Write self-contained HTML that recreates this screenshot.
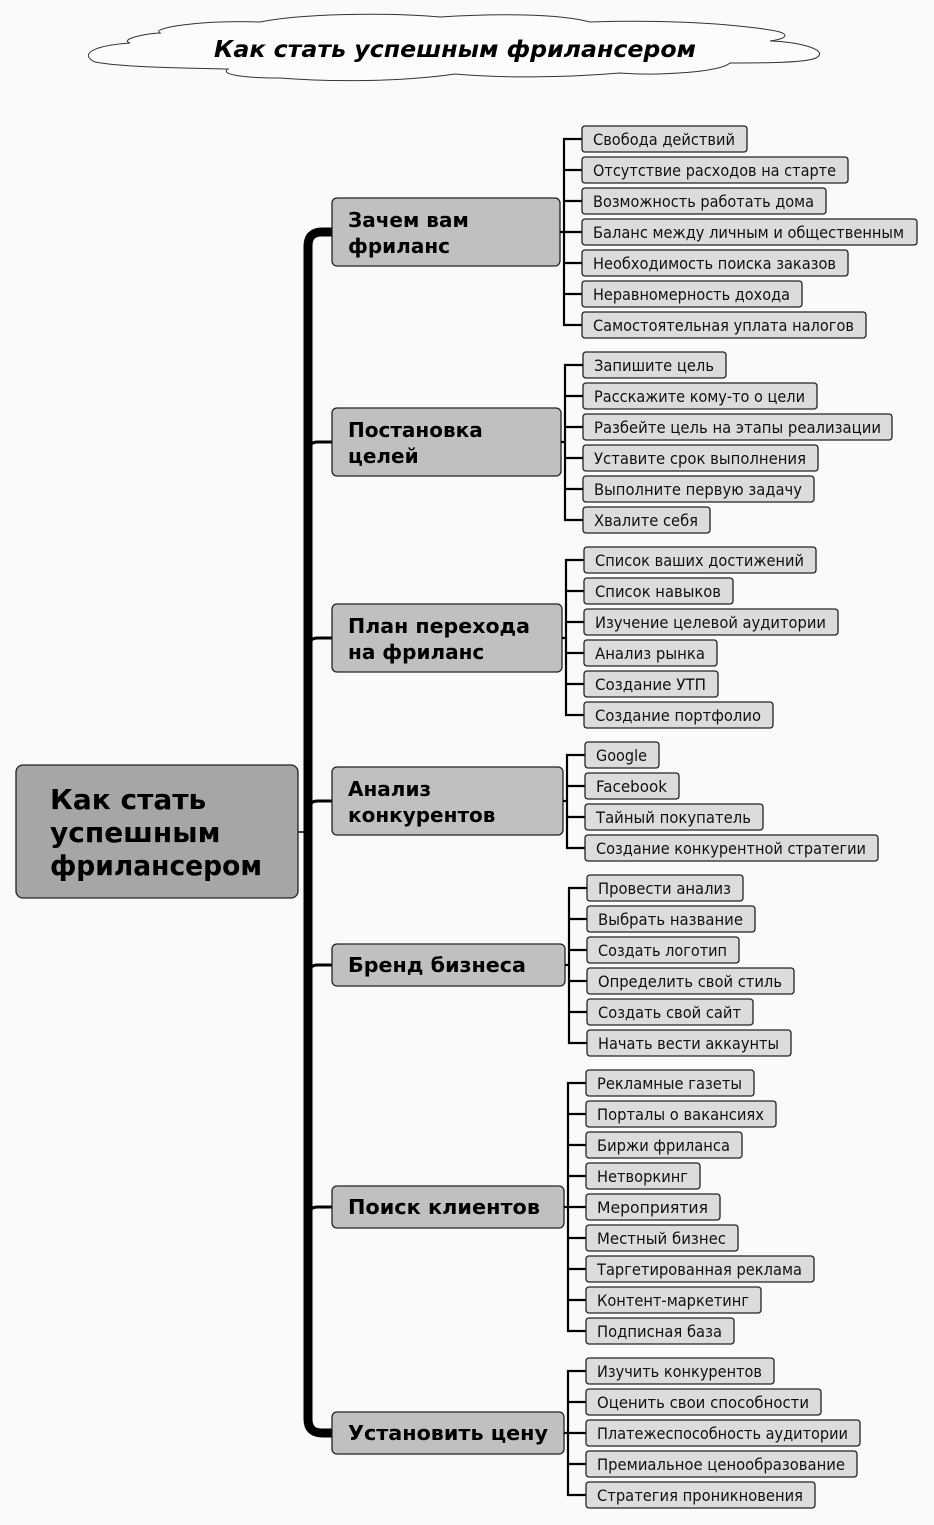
<!DOCTYPE html>
<html><head><meta charset="utf-8"><style>
html,body{margin:0;padding:0;background:#fcf9fc;}
svg{display:block;}
.lf rect{fill:#dcdcdc;stroke:#222;stroke-width:1.3;}
.lf text{font-family:"DejaVu Sans","Liberation Sans",sans-serif;font-size:16px;fill:#111;}
.n1 rect{fill:#c0c0c0;stroke:#222;stroke-width:1.3;}
.n1 text{font-family:"DejaVu Sans","Liberation Sans",sans-serif;font-size:20px;font-weight:bold;fill:#000;}
.br{stroke:#000;stroke-width:2.2;fill:none;}
</style></head><body>
<svg width="934" height="1525" viewBox="0 0 934 1525" xmlns="http://www.w3.org/2000/svg">
<path d="M160,33 C150,28 200,20 260,22 C300,14 380,12 440,17 C500,13 560,14 590,22 C650,20 720,22 770,30 C790,33 790,38 770,41 C800,42 830,50 816,58 C805,63 760,63 730,63 C720,72 660,76 620,73 C560,78 500,78 455,74 C400,82 330,82 280,78 C240,78 220,74 228,69 C180,68 120,67 95,62 C80,55 90,46 130,43 C120,40 140,34 160,33 Z" fill="#fdfbfd" stroke="#333" stroke-width="1"/>
<text x="455" y="57" text-anchor="middle" font-family="DejaVu Sans,Liberation Sans,sans-serif" font-size="23" font-weight="bold" font-style="italic" textLength="482" lengthAdjust="spacingAndGlyphs">Как стать успешным фрилансером</text>

<path d="M308,832 L308,246 Q308,232 322,232 L332,232" stroke="#000" stroke-width="9" fill="none"/>
<path d="M308,832 L308,1419 Q308,1433 322,1433 L332,1433" stroke="#000" stroke-width="9" fill="none"/>
<g stroke="#000" stroke-width="3" fill="none">
<path d="M308,452 Q308,442 318,442 L332,442"/>
<path d="M308,648 Q308,638 318,638 L332,638"/>
<path d="M308,811 Q308,801 318,801 L332,801"/>
<path d="M308,975 Q308,965 318,965 L332,965"/>
<path d="M308,1217 Q308,1207 318,1207 L332,1207"/>
</g>
<line x1="298" y1="832" x2="308" y2="832" stroke="#000" stroke-width="1.5"/>

<rect x="16" y="765" width="282" height="133" rx="7" fill="#a6a6a6" stroke="#222" stroke-width="1.3"/>
<g font-family="DejaVu Sans,Liberation Sans,sans-serif" font-size="28" font-weight="bold">
<text x="50" y="809">Как стать</text>
<text x="50" y="842">успешным</text>
<text x="50" y="875" textLength="212" lengthAdjust="spacingAndGlyphs">фрилансером</text>
</g>

<g class="n1">
<rect x="332" y="198" width="228" height="68" rx="5"/><text x="348" y="227">Зачем вам</text><text x="348" y="253">фриланс</text>
<rect x="332" y="408" width="229" height="68" rx="5"/><text x="348" y="437">Постановка</text><text x="348" y="463">целей</text>
<rect x="332" y="604" width="230" height="68" rx="5"/><text x="348" y="633" textLength="182" lengthAdjust="spacingAndGlyphs">План перехода</text><text x="348" y="659">на фриланс</text>
<rect x="332" y="767" width="231" height="68" rx="5"/><text x="348" y="796">Анализ</text><text x="348" y="822">конкурентов</text>
<rect x="332" y="944" width="233" height="42" rx="5"/><text x="348" y="972" textLength="178" lengthAdjust="spacingAndGlyphs">Бренд бизнеса</text>
<rect x="332" y="1186" width="232" height="42" rx="5"/><text x="348" y="1214" textLength="192" lengthAdjust="spacingAndGlyphs">Поиск клиентов</text>
<rect x="332" y="1412" width="232" height="42" rx="5"/><text x="348" y="1440" textLength="200" lengthAdjust="spacingAndGlyphs">Установить цену</text>
</g>

<g class="br">
<line x1="560" y1="232" x2="564" y2="232"/><path d="M582,139 H564 V325 H582 M564,170 H582 M564,201 H582 M564,232 H582 M564,263 H582 M564,294 H582"/>
<line x1="561" y1="442" x2="565" y2="442"/><path d="M583,365 H565 V520 H583 M565,396 H583 M565,427 H583 M565,458 H583 M565,489 H583"/>
<line x1="562" y1="638" x2="566" y2="638"/><path d="M584,560 H566 V715 H584 M566,591 H584 M566,622 H584 M566,653 H584 M566,684 H584"/>
<line x1="563" y1="801" x2="567" y2="801"/><path d="M585,755 H567 V848 H585 M567,786 H585 M567,817 H585"/>
<line x1="565" y1="965" x2="569" y2="965"/><path d="M587,888 H569 V1043 H587 M569,919 H587 M569,950 H587 M569,981 H587 M569,1012 H587"/>
<line x1="564" y1="1207" x2="568" y2="1207"/><path d="M586,1083 H568 V1331 H586 M568,1114 H586 M568,1145 H586 M568,1176 H586 M568,1207 H586 M568,1238 H586 M568,1269 H586 M568,1300 H586"/>
<line x1="564" y1="1433" x2="568" y2="1433"/><path d="M586,1371 H568 V1495 H586 M568,1402 H586 M568,1433 H586 M568,1464 H586"/>
</g>

<g class="lf">
<rect x="582" y="126" width="165" height="26" rx="3"/><text x="593" y="145" textLength="142" lengthAdjust="spacingAndGlyphs">Свобода действий</text>
<rect x="582" y="157" width="266" height="26" rx="3"/><text x="593" y="176" textLength="243" lengthAdjust="spacingAndGlyphs">Отсутствие расходов на старте</text>
<rect x="582" y="188" width="244" height="26" rx="3"/><text x="593" y="207" textLength="221" lengthAdjust="spacingAndGlyphs">Возможность работать дома</text>
<rect x="582" y="219" width="335" height="26" rx="3"/><text x="593" y="238" textLength="311" lengthAdjust="spacingAndGlyphs">Баланс между личным и общественным</text>
<rect x="582" y="250" width="266" height="26" rx="3"/><text x="593" y="269" textLength="243" lengthAdjust="spacingAndGlyphs">Необходимость поиска заказов</text>
<rect x="582" y="281" width="220" height="26" rx="3"/><text x="593" y="300" textLength="197" lengthAdjust="spacingAndGlyphs">Неравномерность дохода</text>
<rect x="582" y="312" width="284" height="26" rx="3"/><text x="593" y="331" textLength="261" lengthAdjust="spacingAndGlyphs">Самостоятельная уплата налогов</text>

<rect x="583" y="352" width="143" height="26" rx="3"/><text x="594" y="371" textLength="120" lengthAdjust="spacingAndGlyphs">Запишите цель</text>
<rect x="583" y="383" width="234" height="26" rx="3"/><text x="594" y="402" textLength="211" lengthAdjust="spacingAndGlyphs">Расскажите кому-то о цели</text>
<rect x="583" y="414" width="309" height="26" rx="3"/><text x="594" y="433" textLength="287" lengthAdjust="spacingAndGlyphs">Разбейте цель на этапы реализации</text>
<rect x="583" y="445" width="235" height="26" rx="3"/><text x="594" y="464" textLength="212" lengthAdjust="spacingAndGlyphs">Уставите срок выполнения</text>
<rect x="583" y="476" width="231" height="26" rx="3"/><text x="594" y="495" textLength="208" lengthAdjust="spacingAndGlyphs">Выполните первую задачу</text>
<rect x="583" y="507" width="127" height="26" rx="3"/><text x="594" y="526" textLength="104" lengthAdjust="spacingAndGlyphs">Хвалите себя</text>

<rect x="584" y="547" width="232" height="26" rx="3"/><text x="595" y="566" textLength="209" lengthAdjust="spacingAndGlyphs">Список ваших достижений</text>
<rect x="584" y="578" width="149" height="26" rx="3"/><text x="595" y="597" textLength="126" lengthAdjust="spacingAndGlyphs">Список навыков</text>
<rect x="584" y="609" width="254" height="26" rx="3"/><text x="595" y="628" textLength="231" lengthAdjust="spacingAndGlyphs">Изучение целевой аудитории</text>
<rect x="584" y="640" width="133" height="26" rx="3"/><text x="595" y="659" textLength="110" lengthAdjust="spacingAndGlyphs">Анализ рынка</text>
<rect x="584" y="671" width="134" height="26" rx="3"/><text x="595" y="690" textLength="111" lengthAdjust="spacingAndGlyphs">Создание УТП</text>
<rect x="584" y="702" width="189" height="26" rx="3"/><text x="595" y="721" textLength="166" lengthAdjust="spacingAndGlyphs">Создание портфолио</text>

<rect x="585" y="742" width="74" height="26" rx="3"/><text x="596" y="761" textLength="51" lengthAdjust="spacingAndGlyphs">Google</text>
<rect x="585" y="773" width="94" height="26" rx="3"/><text x="596" y="792" textLength="71" lengthAdjust="spacingAndGlyphs">Facebook</text>
<rect x="585" y="804" width="178" height="26" rx="3"/><text x="596" y="823" textLength="155" lengthAdjust="spacingAndGlyphs">Тайный покупатель</text>
<rect x="585" y="835" width="293" height="26" rx="3"/><text x="596" y="854" textLength="270" lengthAdjust="spacingAndGlyphs">Создание конкурентной стратегии</text>

<rect x="587" y="875" width="156" height="26" rx="3"/><text x="598" y="894" textLength="133" lengthAdjust="spacingAndGlyphs">Провести анализ</text>
<rect x="587" y="906" width="168" height="26" rx="3"/><text x="598" y="925" textLength="145" lengthAdjust="spacingAndGlyphs">Выбрать название</text>
<rect x="587" y="937" width="152" height="26" rx="3"/><text x="598" y="956" textLength="129" lengthAdjust="spacingAndGlyphs">Создать логотип</text>
<rect x="587" y="968" width="207" height="26" rx="3"/><text x="598" y="987" textLength="184" lengthAdjust="spacingAndGlyphs">Определить свой стиль</text>
<rect x="587" y="999" width="166" height="26" rx="3"/><text x="598" y="1018" textLength="143" lengthAdjust="spacingAndGlyphs">Создать свой сайт</text>
<rect x="587" y="1030" width="204" height="26" rx="3"/><text x="598" y="1049" textLength="181" lengthAdjust="spacingAndGlyphs">Начать вести аккаунты</text>

<rect x="586" y="1070" width="168" height="26" rx="3"/><text x="597" y="1089" textLength="145" lengthAdjust="spacingAndGlyphs">Рекламные газеты</text>
<rect x="586" y="1101" width="190" height="26" rx="3"/><text x="597" y="1120" textLength="167" lengthAdjust="spacingAndGlyphs">Порталы о вакансиях</text>
<rect x="586" y="1132" width="156" height="26" rx="3"/><text x="597" y="1151" textLength="133" lengthAdjust="spacingAndGlyphs">Биржи фриланса</text>
<rect x="586" y="1163" width="114" height="26" rx="3"/><text x="597" y="1182" textLength="91" lengthAdjust="spacingAndGlyphs">Нетворкинг</text>
<rect x="586" y="1194" width="134" height="26" rx="3"/><text x="597" y="1213" textLength="111" lengthAdjust="spacingAndGlyphs">Мероприятия</text>
<rect x="586" y="1225" width="152" height="26" rx="3"/><text x="597" y="1244" textLength="129" lengthAdjust="spacingAndGlyphs">Местный бизнес</text>
<rect x="586" y="1256" width="228" height="26" rx="3"/><text x="597" y="1275" textLength="205" lengthAdjust="spacingAndGlyphs">Таргетированная реклама</text>
<rect x="586" y="1287" width="175" height="26" rx="3"/><text x="597" y="1306" textLength="152" lengthAdjust="spacingAndGlyphs">Контент-маркетинг</text>
<rect x="586" y="1318" width="148" height="26" rx="3"/><text x="597" y="1337" textLength="125" lengthAdjust="spacingAndGlyphs">Подписная база</text>

<rect x="586" y="1358" width="188" height="26" rx="3"/><text x="597" y="1377" textLength="165" lengthAdjust="spacingAndGlyphs">Изучить конкурентов</text>
<rect x="586" y="1389" width="235" height="26" rx="3"/><text x="597" y="1408" textLength="212" lengthAdjust="spacingAndGlyphs">Оценить свои способности</text>
<rect x="586" y="1420" width="274" height="26" rx="3"/><text x="597" y="1439" textLength="251" lengthAdjust="spacingAndGlyphs">Платежеспособность аудитории</text>
<rect x="586" y="1451" width="271" height="26" rx="3"/><text x="597" y="1470" textLength="248" lengthAdjust="spacingAndGlyphs">Премиальное ценообразование</text>
<rect x="586" y="1482" width="229" height="26" rx="3"/><text x="597" y="1501" textLength="206" lengthAdjust="spacingAndGlyphs">Стратегия проникновения</text>
</g>
</svg>
</body></html>
